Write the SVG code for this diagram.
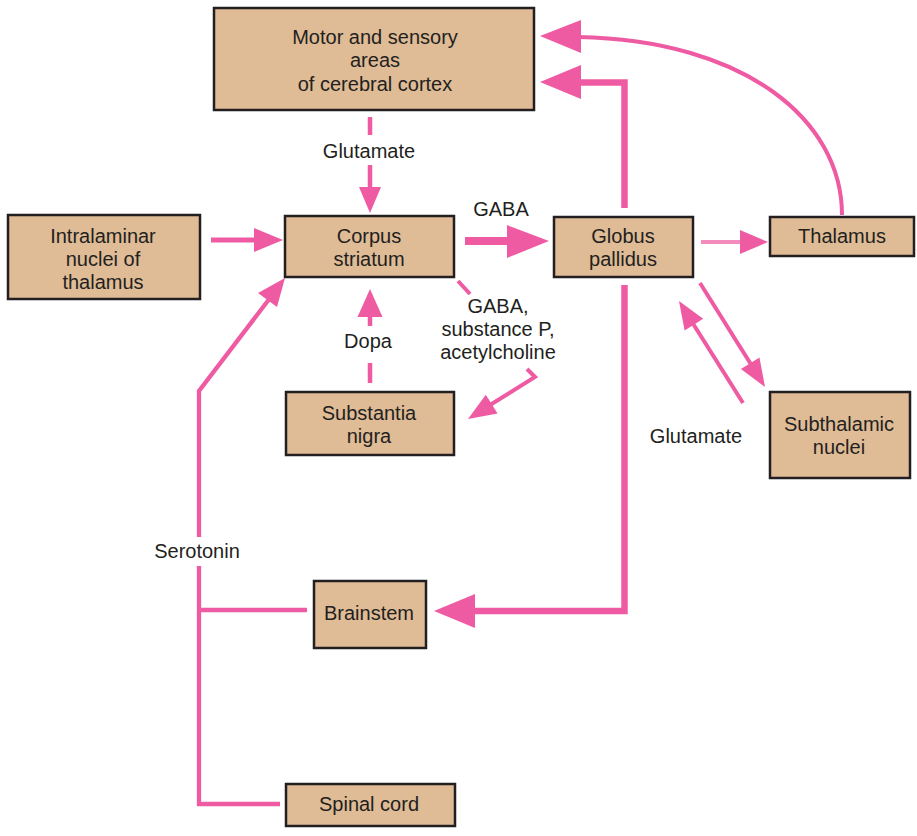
<svg xmlns="http://www.w3.org/2000/svg" width="917" height="836" viewBox="0 0 917 836">
<style>
.box{fill:#dfbb96;stroke:#231f20;stroke-width:2.5}
.t{font-family:"Liberation Sans",Arial,sans-serif;font-size:20px;fill:#231f20;text-anchor:middle}
.ln{fill:none;stroke:#ef5ba3;stroke-linejoin:miter}
.hd{fill:#ef5ba3}
</style>
<rect width="917" height="836" fill="#fff"/>
<g id="connectors">
  <!-- glutamate cortex -> corpus -->
  <line class="ln" x1="370" y1="117" x2="370" y2="135" stroke-width="4.5"/>
  <line class="ln" x1="370" y1="165" x2="370" y2="188" stroke-width="4.5"/>
  <polygon class="hd" points="359,187 381,187 370,213"/>
  <text class="t" x="369" y="158">Glutamate</text>
  <!-- intralaminar -> corpus -->
  <line class="ln" x1="211" y1="240" x2="256" y2="240" stroke-width="5"/>
  <polygon class="hd" points="254,228 254,252 283,240"/>
  <!-- corpus -> globus GABA -->
  <line class="ln" x1="465" y1="241" x2="509" y2="241" stroke-width="8"/>
  <polygon class="hd" points="507,225 507,258 549,241"/>
  <text class="t" x="501" y="216">GABA</text>
  <!-- globus -> thalamus -->
  <line x1="701" y1="242" x2="742" y2="242" stroke="#f38cbd" stroke-width="4"/>
  <polygon class="hd" points="740,230 740,254 768,242"/>
  <!-- globus -> cortex -->
  <path class="ln" d="M624.5 208 V82.5 H578" stroke-width="6.5"/>
  <polygon class="hd" points="581,65 581,99 540,82"/>
  <!-- thalamus -> cortex curve -->
  <path class="ln" d="M842 215 C842 120 745 40 578 37" stroke-width="4"/>
  <polygon class="hd" points="581,20 581,53 540,36"/>
  <!-- globus -> brainstem -->
  <path class="ln" d="M624.5 285 V611 H472" stroke-width="6.5"/>
  <polygon class="hd" points="475,594 475,628 434,611"/>
  <!-- dopa substantia -> corpus -->
  <line class="ln" x1="370" y1="363" x2="370" y2="383" stroke-width="4.5"/>
  <line class="ln" x1="370" y1="315" x2="370" y2="326" stroke-width="4.5"/>
  <polygon class="hd" points="357.5,317 382.5,317 370,289"/>
  <text class="t" x="368" y="348">Dopa</text>
  <!-- corpus -> substantia (GABA, substance P, acetylcholine) -->
  <line class="ln" x1="458" y1="281" x2="470" y2="294" stroke-width="4"/>
  <path class="ln" d="M527 369 L535 377 L490 405" stroke-width="4"/>
  <polygon class="hd" points="497.6,413.4 485.8,394.8 468,419"/>
  <text class="t" x="498" y="313">GABA,</text>
  <text class="t" x="498" y="336">substance P,</text>
  <text class="t" x="498" y="359">acetylcholine</text>
  <!-- globus -> subthalamic -->
  <line class="ln" x1="700" y1="283" x2="752" y2="366" stroke-width="4"/>
  <polygon class="hd" points="759.5,357.5 740.9,369.1 765,387"/>
  <!-- subthalamic -> globus -->
  <line class="ln" x1="743" y1="403" x2="692" y2="322" stroke-width="4"/>
  <polygon class="hd" points="703.2,318.8 684.6,330.6 679,301"/>
  <text class="t" x="696" y="443">Glutamate</text>
  <!-- serotonin -->
  <path class="ln" d="M280 804 H199 V566" stroke-width="4.3"/>
  <path class="ln" d="M199 537 V391 L270 298" stroke-width="4.3"/>
  <line class="ln" x1="199" y1="610" x2="307" y2="610" stroke-width="4.3"/>
  <polygon class="hd" points="277,307 258,293 285,278"/>
  <text class="t" x="197" y="558">Serotonin</text>
</g>
<g id="cortex">
  <rect class="box" x="214" y="8" width="320" height="102"/>
  <text class="t" x="375" y="44">Motor and sensory</text>
  <text class="t" x="375" y="67">areas</text>
  <text class="t" x="375" y="91">of cerebral cortex</text>
</g>
<g id="intralaminar">
  <rect class="box" x="8" y="215" width="192" height="84"/>
  <text class="t" x="103" y="243">Intralaminar</text>
  <text class="t" x="103" y="266">nuclei of</text>
  <text class="t" x="103" y="289">thalamus</text>
</g>
<g id="corpus">
  <rect class="box" x="285" y="216" width="169" height="61"/>
  <text class="t" x="369" y="243">Corpus</text>
  <text class="t" x="369" y="266">striatum</text>
</g>
<g id="globus">
  <rect class="box" x="554" y="217" width="139" height="60"/>
  <text class="t" x="623" y="243">Globus</text>
  <text class="t" x="623" y="266">pallidus</text>
</g>
<g id="thalamus">
  <rect class="box" x="770" y="217" width="144" height="39"/>
  <text class="t" x="842" y="243">Thalamus</text>
</g>
<g id="substantia">
  <rect class="box" x="286" y="392" width="168" height="63"/>
  <text class="t" x="369" y="420">Substantia</text>
  <text class="t" x="369" y="443">nigra</text>
</g>
<g id="subthalamic">
  <rect class="box" x="770" y="392" width="140" height="86"/>
  <text class="t" x="839" y="431">Subthalamic</text>
  <text class="t" x="839" y="454">nuclei</text>
</g>
<g id="brainstem">
  <rect class="box" x="314" y="581" width="112" height="67"/>
  <text class="t" x="369" y="620">Brainstem</text>
</g>
<g id="spinal">
  <rect class="box" x="286" y="784" width="169" height="42"/>
  <text class="t" x="369" y="811">Spinal cord</text>
</g>
</svg>
